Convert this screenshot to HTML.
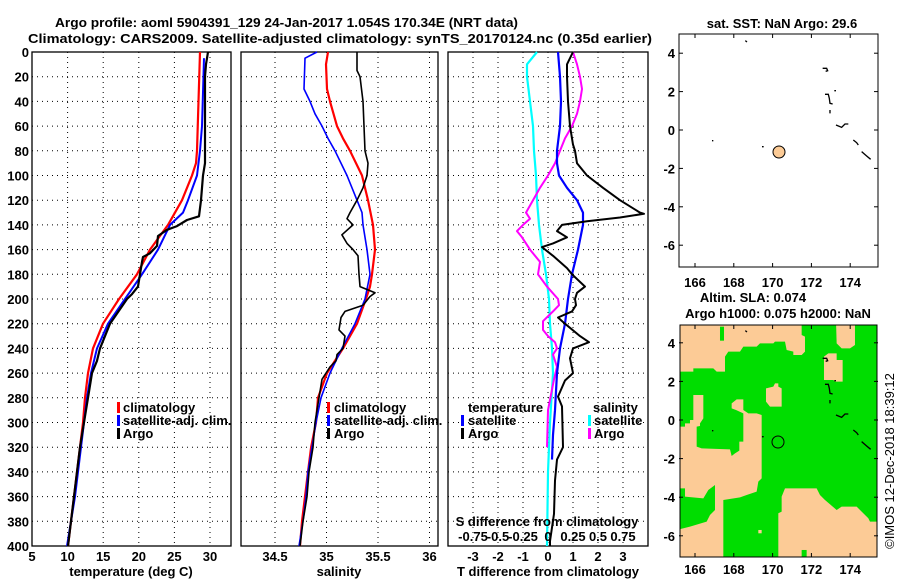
<!DOCTYPE html>
<html><head><meta charset="utf-8">
<style>
html,body{margin:0;padding:0;background:#fff;}
svg{display:block;font-family:"Liberation Sans",Arial,sans-serif;}
.b{font-weight:bold;font-size:13px;fill:#000;}
.grid{stroke:#000;stroke-width:1;stroke-dasharray:1,4;}
</style></head>
<body>
<svg id="chart" width="900" height="580" viewBox="0 0 900 580" xmlns="http://www.w3.org/2000/svg">
<rect width="900" height="580" fill="#fff"/>
<text class="b" x="55" y="27" font-size="14" textLength="463" lengthAdjust="spacingAndGlyphs">Argo profile: aoml 5904391_129 24-Jan-2017 1.054S 170.34E (NRT data)</text>
<text class="b" x="28" y="43" font-size="14" textLength="624" lengthAdjust="spacingAndGlyphs">Climatology: CARS2009. Satellite-adjusted climatology: synTS_20170124.nc (0.35d earlier)</text>
<g id="panels"></g>

<!-- top map -->
<g>
<text class="b" x="782" y="28" text-anchor="middle">sat. SST: NaN Argo: 29.6</text>
<rect x="679" y="34" width="199" height="233" fill="#fff" stroke="#000"/>
<g id="topticks"></g>
<g id="coast1" transform="translate(650,0) scale(0.3333)" fill="none" stroke="#000" stroke-width="4">
<path d="M518,205 L530,205 L533,212 L527,214 M525,283 L535,283 L538,295 L540,310 L548,312 M553,272 l5,0 M540,330 l0,10 M558,375 L575,382 L585,372 L595,372 M610,420 L620,428 L625,435 M635,455 L650,468 L662,478 M286,122 l5,4 M186,422 l4,0 M336,440 l5,0"/>
</g>
<circle cx="779" cy="152" r="6" fill="#fccb96" stroke="#000"/>
</g>

<!-- bottom map -->
<g>
<text class="b" x="753" y="302" text-anchor="middle">Altim. SLA: 0.074</text>
<text class="b" x="778" y="318" text-anchor="middle">Argo h1000: 0.075 h2000: NaN</text>
<clipPath id="mc"><rect x="680" y="325" width="197" height="232"/></clipPath>
<g clip-path="url(#mc)">
<rect x="680" y="325" width="197" height="232" fill="#00dd00"/>
<g transform="translate(660,300) scale(0.3333)" fill="#fccb96" stroke="none">
<polygon points="50,60 425,60 425,105 435,110 435,155 425,165 400,165 400,155 380,150 375,125 345,125 340,130 300,130 290,140 250,140 240,155 205,155 195,170 195,215 170,215 160,205 100,205 100,215 50,215"/>
<rect x="180" y="80" width="12" height="42" fill="#00dd00"/>
<polygon points="528,60 585,60 585,135 570,145 545,145 530,130"/>
<polygon points="492,170 505,160 530,160 530,180 548,180 548,245 525,245 520,240 492,240"/>
<polygon points="318,265 340,260 345,250 355,250 355,260 365,265 365,320 330,320 318,305"/>
<polygon points="50,380 75,380 75,370 90,370 90,360 100,360 100,285 130,285 130,355 120,370 120,378 110,380 110,440 125,445 210,448 215,468 225,460 238,452 238,425 250,425 250,340 228,330 215,325 215,310 230,298 250,298 250,330 265,340 290,340 305,345 305,535 295,545 290,575 260,585 240,592 190,600 190,790 50,790 50,690 90,680 140,665 150,645 165,630 165,555 145,570 130,595 75,590 75,565 50,565"/>
<polygon points="355,790 355,640 365,635 365,590 375,565 470,565 480,585 495,600 530,630 545,620 590,620 605,635 625,655 630,665 670,665 670,790"/>
<rect x="295" y="690" width="10" height="10"/>
<rect x="425" y="750" width="15" height="40" fill="#00dd00"/>
</g>
<use href="#coast1" transform="translate(0,290)"/>
</g>
<rect x="680" y="325" width="197" height="232" fill="none" stroke="#000"/>
<g id="botticks"></g>
<circle cx="778" cy="442" r="6" fill="none" stroke="#000"/>
<text transform="translate(894,461) rotate(-90)" text-anchor="middle" font-size="13" fill="#000">©IMOS 12-Dec-2018 18:39:12</text>
</g>

<script>
// ---------- data ----------
const depthTicks = [0,20,40,60,80,100,120,140,160,180,200,220,240,260,280,300,320,340,360,380,400];
const tempTicks = [5,10,15,20,25,30];
const salTicks = [34.5,35,35.5,36];
const tdiffTicks = [-3,-2,-1,0,1,2,3];
const sdiffTicks = [-0.75,-0.5,-0.25,0,0.25,0.5,0.75];
const sdiffLabels = ["-0.75","-0.5","-0.25","0","0.25","0.5","0.75"];
const lonTicks = [166,168,170,172,174];
const latTicks = [4,2,0,-2,-4,-6];

const tClimDepth = [0,80,90,100,120,140,160,180,200,220,240,260,280,300,320,340,360,380,400];
const tClim = [28.60,28.17,28.03,27.47,26.07,24.10,21.57,19.75,17.22,14.97,13.57,12.87,12.44,12.16,11.74,11.32,10.90,10.48,10.06];
const tSatDepth = [5,60,80,100,120,130,140,160,180,200,220,240,260,280,300,320,340,360,380,400];
const tSat = [29.16,28.88,28.60,28.17,26.91,26.21,24.38,22.70,20.45,18.06,15.67,14.13,13.29,12.72,12.30,11.88,11.46,11.04,10.48,9.92];
const tArgoDepth = [0,5,10,20,80,90,100,120,133,136,141,144,149,157,163,166,170,190,196,200,220,240,250,260,280,300,320,340,360,380,400];
const tArgo = [29.72,29.58,29.44,29.30,29.30,29.30,29.02,28.74,28.46,26.77,25.37,23.96,22.70,22.56,21.57,20.59,20.45,19.89,19.04,18.34,15.96,14.55,14.13,13.43,12.87,12.30,11.74,11.32,10.90,10.48,10.06];

const sClimDepth = [0,10,30,40,60,70,80,100,120,140,160,180,190,200,220,240,260,280,300,320,340,360,380,400];
const sClim = [35.015,34.995,35.005,35.034,35.102,35.160,35.228,35.345,35.403,35.451,35.471,35.442,35.422,35.383,35.296,35.160,35.005,34.917,34.898,34.850,34.820,34.791,34.762,34.743];
const sSatDepth = [0,5,30,40,50,60,70,80,100,120,130,140,160,180,200,220,240,260,280,300,320,340,360,380,400];
const sSat = [34.908,34.791,34.782,34.840,34.888,34.956,35.015,35.083,35.199,35.296,35.345,35.354,35.393,35.422,35.374,35.277,35.150,35.034,34.947,34.898,34.859,34.820,34.801,34.772,34.733];
const sArgoDepth = [0,15,20,40,60,80,90,100,110,120,130,135,140,148,155,160,165,180,190,195,198,205,210,215,225,230,240,245,250,255,265,280,300,320,340,360,380,400];
const sArgo = [35.296,35.296,35.325,35.354,35.364,35.374,35.403,35.393,35.354,35.296,35.228,35.199,35.257,35.150,35.199,35.257,35.306,35.316,35.325,35.471,35.422,35.354,35.180,35.141,35.121,35.180,35.160,35.102,35.092,35.034,34.956,34.927,34.888,34.869,34.830,34.811,34.772,34.743];

const dsSatDepth = [0,10,20,40,60,80,100,120,140,160,180,200,220,240,260,300,340,400];
const dsSat = [-0.11,-0.21,-0.21,-0.18,-0.15,-0.14,-0.12,-0.11,-0.09,-0.06,-0.02,0.01,0.02,0.04,0.05,0.02,0.00,-0.01];
const dsArgoDepth = [0,10,20,30,40,50,60,70,80,90,100,110,120,130,135,140,145,150,160,170,180,190,200,205,210,218,225,230,235,240,245,255,265,290,320];
const dsArgo = [0.25,0.29,0.32,0.34,0.32,0.29,0.24,0.17,0.12,0.07,0,-0.08,-0.15,-0.22,-0.18,-0.25,-0.31,-0.26,-0.18,-0.08,-0.10,-0.01,0.10,0.11,0.05,-0.05,-0.05,0,0.07,0.09,0.05,0.09,0.06,0,-0.01];
const dtSatDepth = [0,20,40,60,80,90,100,110,120,130,140,160,180,200,220,240,260,290,310,330];
const dtSat = [0.40,0.48,0.52,0.48,0.36,0.36,0.44,0.76,1.16,1.40,1.40,1.20,0.96,0.80,0.68,0.48,0.36,0.28,0.20,0.16];
const dtArgoDepth = [0,5,10,20,40,60,75,80,90,100,110,120,130,131,134,137,140,145,150,155,158,165,175,180,190,195,200,205,210,215,220,230,235,240,248,260,266,279,287,320,330,347,374,396,400];
const dtArgo = [1.00,0.88,0.76,0.76,0.80,0.88,1.00,1.08,1.16,1.56,2.20,2.88,3.68,3.84,2.88,1.56,0.56,0.36,0.76,0.20,-0.24,0.20,0.76,0.96,1.48,1.16,1.08,1.12,0.96,0.40,0.68,1.28,1.64,1.00,0.88,1.00,0.68,0.40,0.56,0.60,0.36,0.28,0.24,0.08,0.08];

// ---------- scales ----------
const TOP = 52, BOT = 546;
const yD = d => TOP + d * (BOT - TOP) / 400;
const xT = v => 32 + (v - 5) * 7.12;
const xS = v => 275 + (v - 34.5) * 103;
const xDT = v => 548 + v * 25;
const xDS = v => 548 + v * 100;
const mapX = lon => 695 + (lon - 166) * 19.4;
const mapYTop = lat => 130 - lat * 19.2;
const mapYBot = lat => 420 - lat * 19.3;

const NS = "http://www.w3.org/2000/svg";
const root = document.getElementById("panels");
function mk(tag, attrs, parent) {
  const e = document.createElementNS(NS, tag);
  for (const k in attrs) e.setAttribute(k, attrs[k]);
  (parent || root).appendChild(e);
  return e;
}
function line(depths, vals, sx, color, w, name) {
  const pts = depths.map((d, i) => sx(vals[i]).toFixed(1) + "," + yD(d).toFixed(1)).join(" ");
  const p = mk("polyline", {points: pts, fill: "none", stroke: color, "stroke-width": w, "stroke-linejoin": "round"});
  
  
}
function panel(x0, x1, xticks, sx, name) {
  const g = mk("g", {});
  
  
  depthTicks.forEach(d => {
    const l = mk("line", {x1: x0, x2: x1, y1: yD(d), y2: yD(d), class: "grid"}, g);
    
    
  });
  xticks.forEach(v => {
    const l = mk("line", {x1: sx(v), x2: sx(v), y1: TOP, y2: BOT, class: "grid"}, g);
    
    
    const t = mk("text", {x: sx(v), y: 561, class: "b", "text-anchor": "middle"}, g);
    t.textContent = String(v);
    
    
  });
  const r = mk("rect", {x: x0, y: TOP, width: x1 - x0, height: BOT - TOP, fill: "none", stroke: "#000", "stroke-width": 1.3}, g);
  
  
}
function txt(x, y, s, name, anchor, color) {
  const t = mk("text", {x: x, y: y, class: "b", "text-anchor": anchor || "start"});
  if (color) t.setAttribute("fill", color);
  t.textContent = s;
  
  
}
function mark(x, y, color) {
  const r = mk("rect", {x: x, y: y - 10, width: 3, height: 11, fill: color});
  
  
}

// depth labels
depthTicks.forEach(d => {
  const t = mk("text", {x: 29, y: yD(d) + 5, class: "b", "text-anchor": "end"});
  t.textContent = String(d);
  
  
});

// panel 1: temperature
panel(32, 231, tempTicks, xT, "temperature-panel");
line(tClimDepth, tClim, xT, "#ff0000", 2.2, "temperature-climatology-line");
line(tSatDepth, tSat, xT, "#0000ff", 2, "temperature-satellite-line");
line(tArgoDepth, tArgo, xT, "#000000", 2.2, "temperature-argo-line");
txt(131, 576, "temperature (deg C)", "temperature-axis-title", "middle");
mark(117, 412, "#ff0000"); txt(123, 412, "climatology", "legend-climatology");
mark(117, 425, "#0000ff"); txt(123, 425, "satellite-adj. clim.", "legend-satellite");
mark(117, 438, "#000000"); txt(123, 438, "Argo", "legend-argo");

// panel 2: salinity
panel(241, 438, salTicks, xS, "salinity-panel");
line(sClimDepth, sClim, xS, "#ff0000", 2.2, "salinity-climatology-line");
line(sSatDepth, sSat, xS, "#0000ff", 1.6, "salinity-satellite-line");
line(sArgoDepth, sArgo, xS, "#000000", 1.6, "salinity-argo-line");
txt(339, 576, "salinity", "salinity-axis-title", "middle");
mark(327, 412, "#ff0000"); txt(334, 412, "climatology", "legend-climatology-2");
mark(327, 425, "#0000ff"); txt(334, 425, "satellite-adj. clim.", "legend-satellite-2");
mark(327, 438, "#000000"); txt(334, 438, "Argo", "legend-argo-2");

// panel 3: differences
panel(448, 648, tdiffTicks, xDT, "difference-panel");
line(dsSatDepth, dsSat, xDS, "#00ffff", 2.2, "salinity-diff-satellite-line");
line(dsArgoDepth, dsArgo, xDS, "#ff00ff", 2, "salinity-diff-argo-line");
line(dtSatDepth, dtSat, xDT, "#0000ff", 2.2, "temperature-diff-satellite-line");
line(dtArgoDepth, dtArgo, xDT, "#000000", 2, "temperature-diff-argo-line");
txt(548, 576, "T difference from climatology", "tdiff-axis-title", "middle");
txt(547, 526, "S difference from climatology", "sdiff-axis-title", "middle");
sdiffTicks.forEach((v, i) => txt(xDS(v), 541, sdiffLabels[i], "sdiff-tick-label", "middle"));
txt(468, 412, "temperature", "legend-temperature-header");
mark(461, 425, "#0000ff"); txt(468, 425, "satellite", "legend-tdiff-satellite");
mark(461, 438, "#000000"); txt(468, 438, "Argo", "legend-tdiff-argo");
txt(593, 412, "salinity", "legend-salinity-header");
mark(588, 425, "#00ffff"); txt(594, 425, "satellite", "legend-sdiff-satellite");
mark(588, 438, "#ff00ff"); txt(594, 438, "Argo", "legend-sdiff-argo");

// map ticks/labels
function mapAxes(gid, y0, y1, yf, labY) {
  const g = document.getElementById(gid);
  lonTicks.forEach(l => {
    const x = mapX(l);
    mk("line", {x1: x, x2: x, y1: y0, y2: y0 + 4, stroke: "#000"}, g);
    mk("line", {x1: x, x2: x, y1: y1, y2: y1 - 4, stroke: "#000"}, g);
    const t = mk("text", {x: x, y: labY, class: "b", "text-anchor": "middle"}, g);
    t.textContent = String(l);
    
    
  });
  latTicks.forEach(l => {
    const y = yf(l);
    mk("line", {x1: 679, x2: 683, y1: y, y2: y, stroke: "#000"}, g);
    mk("line", {x1: 878, x2: 874, y1: y, y2: y, stroke: "#000"}, g);
    const t = mk("text", {x: 675, y: y + 5, class: "b", "text-anchor": "end"}, g);
    t.textContent = String(l);
    
    
  });
}
mapAxes("topticks", 34, 267, mapYTop, 287);
mapAxes("botticks", 325, 557, mapYBot, 574);
</script>
</svg>
</body></html>
